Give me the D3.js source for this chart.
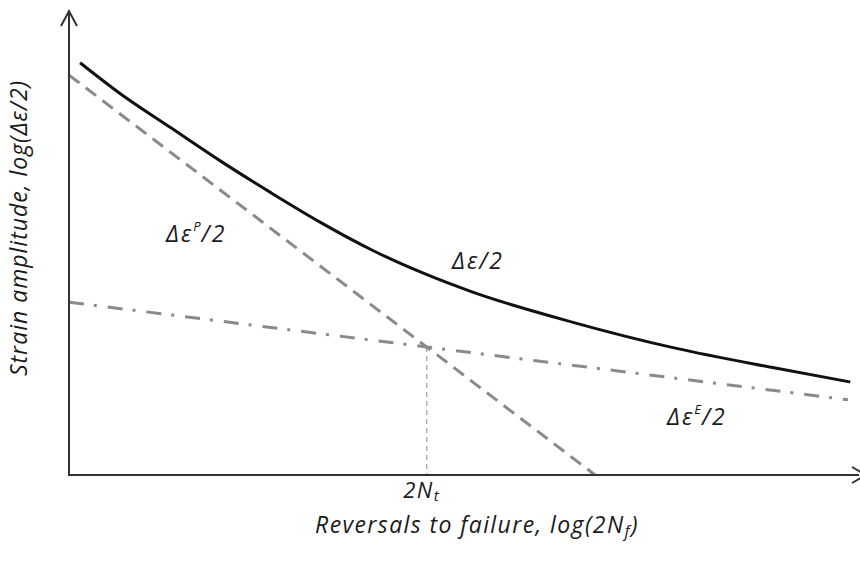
<!DOCTYPE html>
<html>
<head>
<meta charset="utf-8">
<script src="https://cdn.jsdelivr.net/npm/d3@7/dist/d3.min.js"></script>
<style>
  html, body { margin: 0; padding: 0; background: #fff; }
  svg { display: block; }
  text { font-family: "Open Sans", sans-serif; font-style: italic; fill: #1a1a1a; }
</style>
</head>
<body>
<svg id="chart" width="860" height="563"></svg>
<script>
// Strain-life curve: log(Δε/2) against log(2Nf), in log units
const plasticLine = [ {x: 0, y: 5.16}, {x: 6.66, y: 0} ];      // Δε^P/2 (Coffin–Manson)
const elasticLine = [ {x: 0, y: 2.23}, {x: 9.86, y: 0.97} ];   // Δε^E/2 (Basquin)
const totalCurve = [
  {x: 0.14, y: 5.32}, {x: 0.65, y: 4.92}, {x: 1.29, y: 4.48},
  {x: 1.92, y: 4.05}, {x: 2.56, y: 3.64}, {x: 3.20, y: 3.25},
  {x: 3.84, y: 2.90}, {x: 4.47, y: 2.61}, {x: 5.11, y: 2.36},
  {x: 6.38, y: 1.97}, {x: 7.66, y: 1.64}, {x: 8.94, y: 1.38},
  {x: 9.89, y: 1.20}
];

const svg = d3.select("#chart");
const x = d3.scaleLinear().domain([0, 10]).range([69, 859]);
const y = d3.scaleLinear().domain([0, 6]).range([475, 10]);

const line = d3.line().x(d => x(d.x)).y(d => y(d.y));

// Transition life: where the plastic and elastic lines cross
const slope = pts => (pts[1].y - pts[0].y) / (pts[1].x - pts[0].x);
const sp = slope(plasticLine), se = slope(elasticLine);
const xt = (elasticLine[0].y - plasticLine[0].y) / (sp - se);
const yt = plasticLine[0].y + sp * xt;

// Vertical marker at 2Nt
svg.append("line")
  .attr("x1", x(xt)).attr("x2", x(xt))
  .attr("y1", y(yt)).attr("y2", y(0))
  .attr("stroke", "#8a8a8a").attr("stroke-width", 1)
  .attr("stroke-dasharray", "5,4");

// Elastic component (dash-dot)
svg.append("path").datum(elasticLine)
  .attr("d", line).attr("fill", "none")
  .attr("stroke", "#8a8a8a").attr("stroke-width", 3)
  .attr("stroke-dasharray", "15,10,3,11");

// Plastic component (dashed)
svg.append("path").datum(plasticLine)
  .attr("d", line).attr("fill", "none")
  .attr("stroke", "#8a8a8a").attr("stroke-width", 3)
  .attr("stroke-dasharray", "13,8");

// Total strain amplitude
svg.append("path").datum(totalCurve)
  .attr("d", d3.line().x(d => x(d.x)).y(d => y(d.y)).curve(d3.curveMonotoneX))
  .attr("fill", "none").attr("stroke", "#111").attr("stroke-width", 3);

// Axes with open arrowheads
const axisColor = "#333";
svg.append("line").attr("x1", x(0)).attr("x2", x(0)).attr("y1", y(0) + 1).attr("y2", 11)
  .attr("stroke", axisColor).attr("stroke-width", 2);
svg.append("path").attr("d", `M${x(0) - 8},26 L${x(0)},11 L${x(0) + 8},26`)
  .attr("fill", "none").attr("stroke", axisColor).attr("stroke-width", 2);
svg.append("line").attr("x1", x(0) - 1).attr("x2", 859).attr("y1", y(0)).attr("y2", y(0))
  .attr("stroke", axisColor).attr("stroke-width", 2);
svg.append("path").attr("d", `M852,${y(0) - 8} L866,${y(0)} L852,${y(0) + 8}`)
  .attr("fill", "none").attr("stroke", axisColor).attr("stroke-width", 2);

// Curve labels
function strainLabel(px, py, sup) {
  const t = svg.append("text").attr("x", px).attr("y", py)
    .attr("font-size", 23).attr("letter-spacing", 2);
  t.append("tspan").text("Δε");
  if (sup) t.append("tspan").attr("font-size", 13).attr("dy", -11).attr("letter-spacing", 1).text(sup);
  t.append("tspan").attr("dy", sup ? 11 : 0).text("/2");
}
strainLabel(166, 242, "P");
strainLabel(452, 269, null);
strainLabel(667, 425, "E");

// 2Nt tick label
const nt = svg.append("text").attr("x", x(xt) - 5).attr("y", 498)
  .attr("text-anchor", "middle").attr("font-size", 22).attr("letter-spacing", 1.5);
nt.append("tspan").text("2N");
nt.append("tspan").attr("font-size", 15).attr("dy", 3).text("t");

// Axis titles
const xl = svg.append("text").attr("x", 477).attr("y", 533)
  .attr("text-anchor", "middle").attr("font-size", 23).attr("letter-spacing", 1.4);
xl.append("tspan").text("Reversals to failure, log(2N");
xl.append("tspan").attr("font-size", 16).attr("dy", 4).text("f");
xl.append("tspan").attr("dy", -4).text(")");

svg.append("text")
  .attr("transform", "translate(27,228) rotate(-90)")
  .attr("text-anchor", "middle").attr("font-size", 23).attr("letter-spacing", 1)
  .text("Strain amplitude, log(Δε/2)");
</script>
</body>
</html>
